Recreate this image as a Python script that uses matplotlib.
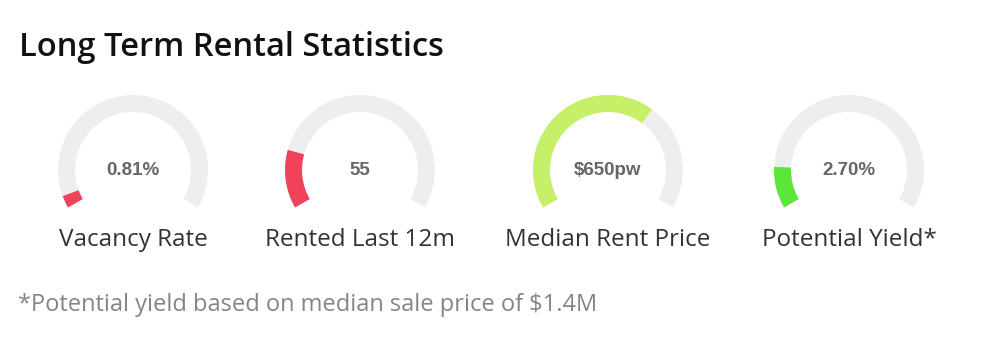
import matplotlib
matplotlib.use("Agg")
import matplotlib.pyplot as plt
from matplotlib.patches import Wedge

# gauge data
labels = ["Vacancy Rate", "Rented Last 12m", "Median Rent Price", "Potential Yield*"]
values = ["0.81%", "55", "$650pw", "2.70%"]
fractions = [0.04, 0.19, 0.65, 0.135]
colors = ["#f0435a", "#f0435a", "#c5f068", "#5ce63a"]

title = "Long Term Rental Statistics"
footnote = "*Potential yield based on median sale price of $1.4M"

W, H = 988, 356
centers_x = [133, 360, 608, 849]
center_y = 170
R, RING = 75, 17
START, SPAN = 210, 240

fig = plt.figure(figsize=(W / 100, H / 100), dpi=100)
ax = fig.add_axes([0, 0, 1, 1])
ax.set_xlim(0, W)
ax.set_ylim(0, H)
ax.set_aspect("equal")
ax.axis("off")

cy = H - center_y
for cx, lab, val, frac, col in zip(centers_x, labels, values, fractions, colors):
    # grey track
    ax.add_patch(Wedge((cx, cy), R, START - SPAN, START, width=RING,
                       facecolor="#eeeeee", edgecolor="none"))
    # filled part starts at the bottom-left end
    ax.add_patch(Wedge((cx, cy), R, START - SPAN * frac, START, width=RING,
                       facecolor=col, edgecolor="none"))
    ax.text(cx, H - 175, val, ha="center", va="baseline", fontsize=13.5,
            fontweight="bold", family="Liberation Sans", color="#666666")
    ax.text(cx, H - 246, lab, ha="center", va="baseline", fontsize=17.5,
            family="Open Sans", color="#333333")

ax.text(19, H - 56, title, ha="left", va="baseline", fontsize=23.5,
        family="Open Sans", fontweight="semibold", color="#111111")
ax.text(18, H - 311, footnote, ha="left", va="baseline", fontsize=17,
        family="Open Sans", color="#858585")

fig.savefig("out.png", dpi=100, facecolor="white")
